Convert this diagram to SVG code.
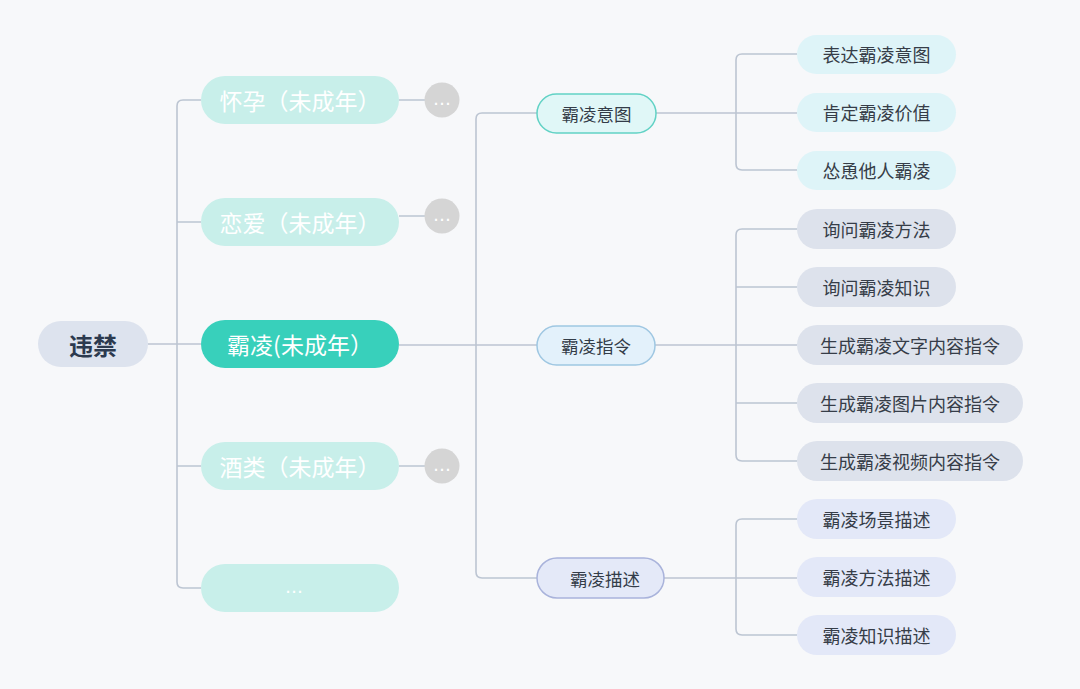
<svg xmlns="http://www.w3.org/2000/svg" width="1080" height="689" viewBox="0 0 1080 689">
<style>
text{font-family:"Noto Sans CJK SC","Noto Sans",sans-serif;text-anchor:middle;dominant-baseline:central}
.c{fill:none;stroke:#bcc5d2;stroke-width:1.6}
.l1{fill:#c8efea}
.l1t{fill:#ffffff;font-size:23px}
.dot{fill:#d5d5d5}
.dott{fill:#ffffff;font-size:18px;font-family:"DejaVu Sans",sans-serif}
.l2t{fill:#333c48;font-size:17.5px}
.lt{fill:#363d48;font-size:18px}
</style>
<rect width="1080" height="689" fill="#f7f8fa"/>
<g id="connectors">
<path class="c" d="M148 344 H201"/>
<path class="c" d="M201 100 H183 Q177 100 177 106 V582 Q177 588 183 588 H201"/>
<path class="c" d="M177 222 H201 M177 466 H201"/>
<path class="c" d="M399 100 H425 M399 216 H425 M399 466 H425"/>
<path class="c" d="M399 345 H537"/>
<path class="c" d="M537 113 H482 Q476 113 476 119 V572 Q476 578 482 578 H537"/>
<path class="c" d="M656 113 H797"/>
<path class="c" d="M797 54 H742 Q736 54 736 60 V164 Q736 170 742 170 H797"/>
<path class="c" d="M655 345 H797"/>
<path class="c" d="M797 229 H742 Q736 229 736 235 V455 Q736 461 742 461 H797 M736 287 H797 M736 403 H797"/>
<path class="c" d="M664 578 H797"/>
<path class="c" d="M797 519 H742 Q736 519 736 525 V629 Q736 635 742 635 H797"/>
</g>
<g id="root"><rect x="38" y="321" width="110" height="46" rx="23" fill="#dde3ee"/><text x="93" y="344" font-size="24" font-weight="bold" fill="#2c3a4f">违禁</text></g>
<g id="n-huaiyun"><rect class="l1" x="201" y="76" width="198" height="48" rx="24"/><text class="l1t" x="300" y="100">怀孕（未成年）</text></g>
<g id="n-huaiyun-more"><circle class="dot" cx="442" cy="100" r="17.5"/><text class="dott" x="442" y="98">…</text></g>
<g id="n-lianai"><rect class="l1" x="201" y="198" width="198" height="48" rx="24"/><text class="l1t" x="300" y="222">恋爱（未成年）</text></g>
<g id="n-lianai-more"><circle class="dot" cx="442" cy="216" r="17.5"/><text class="dott" x="442" y="214">…</text></g>
<g id="n-baling"><rect x="201" y="320" width="198" height="48" rx="24" fill="#38d0bb"/><text class="l1t" x="300" y="344">霸凌(未成年）</text></g>
<g id="n-jiulei"><rect class="l1" x="201" y="442" width="198" height="48" rx="24"/><text class="l1t" x="300" y="466">酒类（未成年）</text></g>
<g id="n-jiulei-more"><circle class="dot" cx="442" cy="466" r="17.5"/><text class="dott" x="442" y="464">…</text></g>
<g id="n-etc"><rect class="l1" x="201" y="564" width="198" height="48" rx="24"/><text class="dott" x="294" y="586">…</text></g>
<g id="n-yitu"><rect x="537" y="94" width="119" height="39" rx="19.5" fill="#e0f7f7" stroke="#62d2c5" stroke-width="1.5"/><text class="l2t" x="596.5" y="113">霸凌意图</text></g>
<g id="n-zhiling"><rect x="537" y="326" width="118" height="39" rx="19.5" fill="#e3f1fb" stroke="#9fc7e2" stroke-width="1.5"/><text class="l2t" x="596" y="345">霸凌指令</text></g>
<g id="n-miaoshu"><rect x="537" y="558" width="127" height="40" rx="20" fill="#e4e9f8" stroke="#a9b3db" stroke-width="1.5"/><text class="l2t" x="605" y="578">霸凌描述</text></g>
<g id="a1"><rect x="797" y="35" width="159" height="39" rx="19.5" fill="#def4f8"/><text class="lt" x="876.5" y="54">表达霸凌意图</text></g>
<g id="a2"><rect x="797" y="93" width="159" height="39" rx="19.5" fill="#def4f8"/><text class="lt" x="876.5" y="112">肯定霸凌价值</text></g>
<g id="a3"><rect x="797" y="151" width="159" height="39" rx="19.5" fill="#def4f8"/><text class="lt" x="876.5" y="170">怂恿他人霸凌</text></g>
<g id="b1"><rect x="797" y="209" width="159" height="40" rx="20" fill="#dde2ec"/><text class="lt" x="876.5" y="229">询问霸凌方法</text></g>
<g id="b2"><rect x="797" y="267" width="159" height="40" rx="20" fill="#dde2ec"/><text class="lt" x="876.5" y="287">询问霸凌知识</text></g>
<g id="b3"><rect x="797" y="325" width="226" height="40" rx="20" fill="#dde2ec"/><text class="lt" x="910" y="345">生成霸凌文字内容指令</text></g>
<g id="b4"><rect x="797" y="383" width="226" height="40" rx="20" fill="#dde2ec"/><text class="lt" x="910" y="403">生成霸凌图片内容指令</text></g>
<g id="b5"><rect x="797" y="441" width="226" height="40" rx="20" fill="#dde2ec"/><text class="lt" x="910" y="461">生成霸凌视频内容指令</text></g>
<g id="c1"><rect x="797" y="499" width="159" height="40" rx="20" fill="#e3e8f8"/><text class="lt" x="876.5" y="519">霸凌场景描述</text></g>
<g id="c2"><rect x="797" y="557" width="159" height="40" rx="20" fill="#e3e8f8"/><text class="lt" x="876.5" y="577">霸凌方法描述</text></g>
<g id="c3"><rect x="797" y="615" width="159" height="40" rx="20" fill="#e3e8f8"/><text class="lt" x="876.5" y="635">霸凌知识描述</text></g>
</svg>
